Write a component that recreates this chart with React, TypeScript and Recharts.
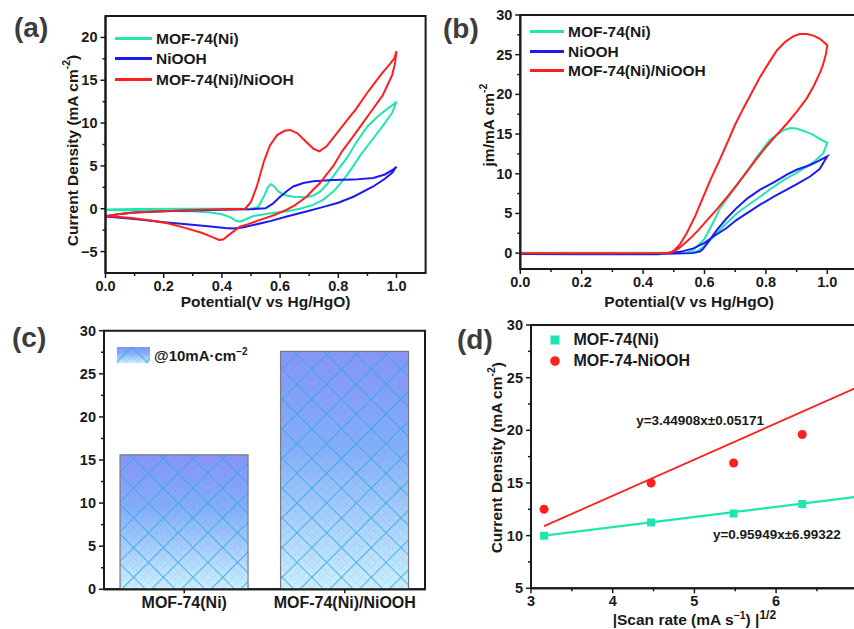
import React from "react";
import {
  Bar,
  BarChart,
  Legend,
  Line,
  LineChart,
  ReferenceArea,
  ReferenceDot,
  Scatter,
  ScatterChart,
  XAxis,
  YAxis,
  ZAxis,
} from "recharts";

const FONT = "'Liberation Sans', Arial, Helvetica, sans-serif";
const INK = "#1a1a1a";
const GREEN = "#1fe6b0";
const BLUE = "#1c1cf0";
const RED = "#ff1f1f";

// (a) CV loops: [potential V vs Hg/HgO, current density mA cm-2]
const cvMof: [number, number][] = [
  [0, -0.1], [0.1, -0.02], [0.3, 0], [0.5, 0], [0.525, 0.2], [0.545, 1.5], [0.558, 2.5],
  [0.568, 2.85], [0.58, 2.6], [0.595, 2.0], [0.615, 1.6], [0.645, 1.4], [0.69, 1.35],
  [0.715, 1.55], [0.737, 2.0], [0.76, 2.8], [0.783, 3.8], [0.806, 4.9], [0.829, 5.9],
  [0.863, 7.8], [0.9, 9.6], [0.94, 10.9], [0.97, 11.7], [0.99, 12.2], [1.0, 12.5],
  [0.985, 11.2], [0.96, 10.0], [0.92, 8.2], [0.875, 6.2], [0.852, 5.0], [0.829, 3.9],
  [0.806, 2.9], [0.783, 2.0], [0.75, 1.1], [0.714, 0.45], [0.668, 0.0], [0.623, -0.3],
  [0.56, -0.55], [0.508, -0.85], [0.48, -1.25], [0.462, -1.5], [0.448, -1.4], [0.43, -1.0],
  [0.4, -0.65], [0.36, -0.45], [0.3, -0.3], [0.2, -0.25], [0.1, -0.2], [0, -0.15],
];
const cvNiooh: [number, number][] = [
  [0, -0.9], [0.05, -0.6], [0.1, -0.45], [0.2, -0.3], [0.3, -0.2], [0.4, -0.12], [0.5, -0.05],
  [0.55, 0.05], [0.575, 0.6], [0.6, 1.4], [0.625, 2.1], [0.645, 2.6], [0.68, 3.0], [0.714, 3.2],
  [0.78, 3.35], [0.852, 3.4], [0.92, 3.6], [0.96, 4.0], [0.985, 4.5], [1.0, 4.9],
  [0.985, 4.2], [0.96, 3.5], [0.92, 2.6], [0.852, 1.4], [0.8, 0.7], [0.737, 0.1], [0.68, -0.4],
  [0.623, -0.9], [0.56, -1.5], [0.508, -1.9], [0.47, -2.2], [0.44, -2.3], [0.41, -2.25],
  [0.37, -2.1], [0.325, -1.95], [0.26, -1.75], [0.21, -1.6], [0.1, -1.2], [0, -0.9],
];
const cvHybrid: [number, number][] = [
  [0, -0.85], [0.05, -0.6], [0.1, -0.45], [0.2, -0.28], [0.3, -0.15], [0.4, -0.05], [0.48, 0],
  [0.5, 0.8], [0.52, 2.6], [0.545, 5.6], [0.565, 7.4], [0.59, 8.6], [0.615, 9.1], [0.634, 9.2],
  [0.66, 8.8], [0.69, 7.8], [0.715, 7.0], [0.735, 6.7], [0.76, 7.3], [0.79, 8.6], [0.825, 10.1],
  [0.86, 11.6], [0.905, 13.8], [0.95, 15.8], [0.98, 17.0], [0.993, 17.6], [1.0, 18.4],
  [0.995, 17.0], [0.985, 15.6], [0.952, 13.2], [0.92, 11.7], [0.884, 10.0], [0.85, 8.4],
  [0.813, 6.7], [0.783, 5.0], [0.76, 4.0], [0.737, 3.0], [0.71, 2.1], [0.691, 1.4], [0.65, 0.4],
  [0.623, -0.1], [0.583, -0.7], [0.531, -1.3], [0.49, -1.8], [0.462, -2.1], [0.43, -2.9],
  [0.404, -3.6], [0.39, -3.65], [0.37, -3.35], [0.33, -2.8], [0.27, -2.2], [0.213, -1.7],
  [0.15, -1.35], [0.098, -1.1], [0.05, -0.95], [0, -0.85],
];

// (b) loops: [potential, jm mA cm-2]
const lsvMof: [number, number][] = [
  [0, 0.05], [0.3, 0.05], [0.542, 0.05], [0.564, 0.4], [0.6, 1.8], [0.625, 3.6], [0.65, 5.6],
  [0.68, 7.2], [0.705, 8.5], [0.74, 10.4], [0.77, 12.1], [0.813, 14.3], [0.857, 15.5],
  [0.88, 15.75], [0.9, 15.7], [0.93, 15.3], [0.954, 14.9], [0.98, 14.3], [1.0, 13.9],
  [0.987, 12.6], [0.96, 11.6], [0.933, 10.9], [0.9, 10.1], [0.857, 9.2], [0.82, 8.2],
  [0.781, 7.1], [0.74, 6.0], [0.705, 5.0], [0.67, 3.7], [0.64, 2.5], [0.615, 1.5],
  [0.596, 0.8], [0.575, 0.2], [0.564, 0.05], [0.3, 0.05], [0, 0.05],
];
const lsvNiooh: [number, number][] = [
  [0, -0.1], [0.2, -0.15], [0.45, -0.15], [0.488, 0], [0.53, 0.25], [0.564, 0.6], [0.6, 1.3],
  [0.629, 2.1], [0.67, 3.1], [0.705, 4.2], [0.745, 5.2], [0.781, 6.1], [0.83, 7.2], [0.868, 8.0],
  [0.905, 8.8], [0.944, 9.65], [0.975, 10.6], [1.0, 12.2],
  [0.97, 11.6], [0.944, 11.1], [0.9, 10.5], [0.868, 9.9], [0.83, 9.0], [0.781, 8.0], [0.74, 6.9],
  [0.705, 5.7], [0.67, 4.3], [0.64, 2.9], [0.61, 1.3], [0.595, 0.5], [0.585, 0.2], [0.56, 0],
  [0.45, -0.1], [0.2, -0.1], [0, -0.1],
];
const lsvHybrid: [number, number][] = [
  [0, 0], [0.2, 0], [0.45, 0], [0.488, 0.05], [0.5, 0.3], [0.52, 1.1], [0.542, 2.5], [0.57, 4.7],
  [0.596, 7.1], [0.62, 9.3], [0.65, 11.8], [0.672, 13.7], [0.7, 16.2], [0.726, 18.2],
  [0.755, 20.3], [0.781, 22.2], [0.81, 24.0], [0.835, 25.5], [0.862, 26.6], [0.889, 27.3],
  [0.91, 27.6], [0.933, 27.6], [0.955, 27.4], [0.976, 27.0], [1.0, 26.2],
  [0.995, 25.0], [0.985, 23.6], [0.976, 22.7], [0.955, 21.0], [0.933, 19.5], [0.9, 17.8],
  [0.868, 16.3], [0.835, 14.9], [0.803, 13.5], [0.77, 11.9], [0.737, 10.2], [0.705, 8.6],
  [0.672, 7.0], [0.64, 5.5], [0.607, 4.1], [0.58, 2.9], [0.552, 1.8], [0.52, 0.7], [0.5, 0.2],
  [0.48, 0.02], [0.3, 0], [0, 0],
];

const loopNames = ["MOF-74(Ni)", "NiOOH", "MOF-74(Ni)/NiOOH"];

// (c) potential gap @10 mA cm-2
const barLabels = ["MOF-74(Ni)", "MOF-74(Ni)/NiOOH"];
const barValues = [15.6, 27.6];

// (d) current density vs sqrt(scan rate)
const scanRoot = [3.16, 4.47, 5.48, 6.32];
const jMof = [10.0, 11.25, 12.1, 13.0];
const jHybrid = [12.5, 15.0, 16.9, 19.6];
const fitX = [3.16, 7];
const fitMof = [10.0, 13.7];
const fitHybrid = [10.9, 24.1];
const scanNames = ["MOF-74(Ni)", "MOF-74-NiOOH"];

// tick values
const potentialTicks = [0, 0.1, 0.2, 0.3, 0.4, 0.5, 0.6, 0.7, 0.8, 0.9, 1.0];
const potentialMajors = [0, 0.2, 0.4, 0.6, 0.8, 1.0];
const cvTicks = [-5, -2.5, 0, 2.5, 5, 7.5, 10, 12.5, 15, 17.5, 20];
const cvMajors = [-5, 0, 5, 10, 15, 20];
const lsvTicks = [0, 2.5, 5, 7.5, 10, 12.5, 15, 17.5, 20, 22.5, 25, 27.5, 30];
const lsvMajors = [0, 5, 10, 15, 20, 25, 30];
const barTicks = lsvTicks;
const barMajors = lsvMajors;
const scanTicks = [3, 3.5, 4, 4.5, 5, 5.5, 6, 6.5];
const scanMajors = [3, 4, 5, 6];
const densTicks = [5, 7.5, 10, 12.5, 15, 17.5, 20, 22.5, 25, 27.5, 30];
const densMajors = [5, 10, 15, 20, 25, 30];

const toLoop = (pairs: [number, number][]) => pairs.map(([v, j]) => ({ v, j }));
const toXY = (xs: number[], ys: number[]) => xs.map((x, i) => ({ x, y: ys[i] }));
const barRows = barLabels.map((name, i) => ({ name, value: barValues[i] }));

const tickText = { fontFamily: FONT, fontWeight: 700, fontSize: 14.5, fill: INK };
const titleText = { fontFamily: FONT, fontWeight: 700, fontSize: 15.5, fill: INK };
const axisLine = { stroke: INK, strokeWidth: 2 };

const minusFmt = (n: number) => (n < 0 ? `\u2212${Math.abs(n)}` : String(n));

const inOrder = (payload: any[], names: string[]) =>
  payload
    .filter((item) => item.type !== "none" && names.includes(item.value))
    .sort((a, b) => names.indexOf(a.value) - names.indexOf(b.value));

function AxisTick({ x = 0, y = 0, payload, side, majors, fmt = String }: any) {
  const value = payload?.value ?? 0;
  const major = majors.some((m: number) => Math.abs(m - value) < 1e-6);
  const len = major ? 5 : 3;
  if (side === "bottom") {
    return (
      <g>
        <line x1={x} y1={y} x2={x} y2={y + len} stroke={INK} strokeWidth={1.5} />
        {major && (
          <text x={x} y={y + 18} textAnchor="middle" style={tickText}>
            {fmt(value)}
          </text>
        )}
      </g>
    );
  }
  return (
    <g>
      <line x1={x} y1={y} x2={x - len} y2={y} stroke={INK} strokeWidth={1.5} />
      {major && (
        <text x={x - 8} y={y + 5} textAnchor="end" style={tickText}>
          {fmt(value)}
        </text>
      )}
    </g>
  );
}

function CategoryTick({ x = 0, y = 0, payload }: any) {
  return (
    <g>
      <line x1={x} y1={y} x2={x} y2={y + 4} stroke={INK} strokeWidth={1.5} />
      <text x={x} y={y + 19} textAnchor="middle" style={{ ...tickText, fontSize: 16 }}>
        {payload?.value}
      </text>
    </g>
  );
}

function XTitle({ viewBox, drop, title }: any) {
  const vb = viewBox ?? { x: 0, y: 0, width: 0, height: 0 };
  return (
    <text x={vb.x + vb.width / 2} y={vb.y + drop} textAnchor="middle" style={titleText}>
      {title}
    </text>
  );
}

function YTitle({ viewBox, cx, shift = 0, title }: any) {
  const vb = viewBox ?? { x: 0, y: 0, width: 0, height: 0 };
  const x = vb.x + cx;
  const y = vb.y + vb.height / 2 + shift;
  return (
    <text
      x={x}
      y={y}
      transform={`rotate(-90 ${x} ${y})`}
      textAnchor="middle"
      dominantBaseline="central"
      style={titleText}
    >
      {title}
    </text>
  );
}

const sup = (s: string, tail?: string) => {
  const parts = [
    <tspan key="s" dy={-6} fontSize={10.5}>
      {s}
    </tspan>,
  ];
  if (tail) {
    parts.push(
      <tspan key="t" dy={6}>
        {tail}
      </tspan>,
    );
  }
  return parts;
};

function LineLegend({ payload = [], swatch, rowHeight }: any) {
  return (
    <div style={{ fontFamily: FONT, fontWeight: 700, fontSize: 15.5, color: INK, lineHeight: 1 }}>
      {inOrder(payload, loopNames).map((item: any) => (
        <div key={item.value} style={{ display: "flex", alignItems: "center", height: rowHeight }}>
          <span style={{ width: swatch, height: 3, background: item.color, marginRight: 4 }} />
          <span>{item.value}</span>
        </div>
      ))}
    </div>
  );
}

function MarkerLegend({ payload = [] }: any) {
  return (
    <div style={{ fontFamily: FONT, fontWeight: 700, fontSize: 16, color: INK, lineHeight: 1 }}>
      {inOrder(payload, scanNames).map((item: any) => (
        <div key={item.value} style={{ display: "flex", alignItems: "center", height: 20.7 }}>
          <svg width={12} height={12} style={{ marginRight: 12.5 }}>
            {item.type === "square" ? (
              <rect x={1.5} y={1.5} width={9} height={9} fill={item.color} />
            ) : (
              <circle cx={6} cy={6} r={4.8} fill={item.color} />
            )}
          </svg>
          <span>{item.value}</span>
        </div>
      ))}
    </div>
  );
}

function BarLegend({ payload = [] }: any) {
  return (
    <div style={{ fontFamily: FONT, fontWeight: 700, fontSize: 15, color: INK, lineHeight: 1 }}>
      {payload.map((item: any) => (
        <div key={item.value} style={{ display: "flex", alignItems: "center" }}>
          <svg width={33} height={16} style={{ marginRight: 4 }}>
            <rect x={0} y={0} width={33} height={16} fill="url(#barFade)" />
            <rect x={0} y={0} width={33} height={16} fill="url(#barHatch)" />
          </svg>
          <span>
            @10mA·cm<sup style={{ fontSize: 10 }}>−2</sup>
          </span>
        </div>
      ))}
    </div>
  );
}

function HatchedBar({ x = 0, y = 0, width = 0, height = 0 }: any) {
  return (
    <g>
      <rect x={x} y={y} width={width} height={height} fill="url(#barFade)" />
      <rect x={x} y={y} width={width} height={height} fill="url(#barHatch)" />
      <rect x={x} y={y} width={width} height={height} fill="none" stroke="#7a7a7a" strokeWidth={1.2} />
    </g>
  );
}

const letterStyle: React.CSSProperties = {
  position: "absolute",
  fontFamily: FONT,
  fontWeight: 700,
  fontSize: 28,
  lineHeight: 1,
  color: "#3c3c3c",
};

function CvPanel() {
  return (
    <LineChart width={440} height={310} margin={{ top: 16, right: 14.4, bottom: 0, left: 0 }}>
      <XAxis
        type="number"
        dataKey="v"
        domain={[0, 1.1]}
        allowDataOverflow
        ticks={potentialTicks}
        interval={0}
        height={37}
        tickSize={0}
        tickMargin={0}
        tickLine={false}
        axisLine={axisLine}
        tick={<AxisTick side="bottom" majors={potentialMajors} fmt={(n: number) => n.toFixed(1)} />}
        label={<XTitle drop={34} title="Potential(V vs Hg/HgO)" />}
      />
      <YAxis
        type="number"
        domain={[-7.5, 22.5]}
        allowDataOverflow
        ticks={cvTicks}
        interval={0}
        width={105.5}
        tickSize={0}
        tickMargin={0}
        tickLine={false}
        axisLine={axisLine}
        tick={<AxisTick side="left" majors={cvMajors} fmt={minusFmt} />}
        label={<YTitle cx={72} shift={6} title={["Current Density (mA cm", ...sup("-2", ")")]} />}
      />
      <ReferenceArea y1={-7.5} y2={22.5} fill="none" stroke={INK} strokeWidth={2} />
      <Legend
        layout="vertical"
        align="center"
        verticalAlign="middle"
        wrapperStyle={{ left: 115, top: 28, width: "auto" }}
        content={<LineLegend swatch={37} rowHeight={20.5} />}
      />
      <Line data={toLoop(cvMof)} dataKey="j" name={loopNames[0]} stroke={GREEN} strokeWidth={2} dot={false} isAnimationActive={false} />
      <Line data={toLoop(cvNiooh)} dataKey="j" name={loopNames[1]} stroke={BLUE} strokeWidth={2} dot={false} isAnimationActive={false} />
      <Line data={toLoop(cvHybrid)} dataKey="j" name={loopNames[2]} stroke={RED} strokeWidth={2} dot={false} isAnimationActive={false} />
    </LineChart>
  );
}

function LsvPanel() {
  return (
    <LineChart width={440} height={310} margin={{ top: 15, right: 9, bottom: 0, left: 0 }}>
      <XAxis
        type="number"
        dataKey="v"
        domain={[0, 1.1]}
        allowDataOverflow
        ticks={potentialTicks}
        interval={0}
        height={41}
        tickSize={0}
        tickMargin={0}
        tickLine={false}
        axisLine={axisLine}
        tick={<AxisTick side="bottom" majors={potentialMajors} fmt={(n: number) => n.toFixed(1)} />}
        label={<XTitle drop={38} title="Potential(V vs Hg/HgO)" />}
      />
      <YAxis
        type="number"
        domain={[-2, 30]}
        allowDataOverflow
        ticks={lsvTicks}
        interval={0}
        width={93.3}
        tickSize={0}
        tickMargin={0}
        tickLine={false}
        axisLine={axisLine}
        tick={<AxisTick side="left" majors={lsvMajors} />}
        label={<YTitle cx={61.7} shift={-17} title={["jm/mA cm", ...sup("-2")]} />}
      />
      <ReferenceArea y1={-2} y2={30} fill="none" stroke={INK} strokeWidth={2} />
      <Legend
        layout="vertical"
        align="center"
        verticalAlign="middle"
        wrapperStyle={{ left: 103, top: 22, width: "auto" }}
        content={<LineLegend swatch={34} rowHeight={19.5} />}
      />
      <Line data={toLoop(lsvMof)} dataKey="j" name={loopNames[0]} stroke={GREEN} strokeWidth={2} dot={false} isAnimationActive={false} />
      <Line data={toLoop(lsvNiooh)} dataKey="j" name={loopNames[1]} stroke={BLUE} strokeWidth={2} dot={false} isAnimationActive={false} />
      <Line data={toLoop(lsvHybrid)} dataKey="j" name={loopNames[2]} stroke={RED} strokeWidth={2} dot={false} isAnimationActive={false} />
    </LineChart>
  );
}

function BarPanel() {
  return (
    <BarChart
      width={440}
      height={319}
      data={barRows}
      margin={{ top: 20.7, right: 15, bottom: 0, left: 0 }}
      barCategoryGap="10%"
    >
      <defs>
        <linearGradient id="barFade" x1="0" y1="0" x2="0" y2="1">
          <stop offset="0%" stopColor="#8894f6" />
          <stop offset="40%" stopColor="#84aef7" />
          <stop offset="100%" stopColor="#cdeffc" />
        </linearGradient>
        <pattern id="barHatch" width={21} height={21} patternUnits="userSpaceOnUse" patternTransform="rotate(45)">
          <path d="M0 10.5H21M10.5 0V21" stroke="#2ea6ee" strokeWidth={1.1} fill="none" strokeOpacity={0.8} />
          <path
            d="M0 3.5H21M0 17.5H21M3.5 0V21M17.5 0V21"
            stroke="#2ea6ee"
            strokeWidth={0.8}
            strokeOpacity={0.35}
            strokeDasharray="1 1.5"
            fill="none"
          />
        </pattern>
      </defs>
      <XAxis
        dataKey="name"
        interval={0}
        height={39.7}
        tickSize={0}
        tickMargin={0}
        tickLine={false}
        axisLine={axisLine}
        tick={<CategoryTick />}
      />
      <YAxis
        type="number"
        domain={[0, 30]}
        allowDataOverflow
        ticks={barTicks}
        interval={0}
        width={104}
        tickSize={0}
        tickMargin={0}
        tickLine={false}
        axisLine={axisLine}
        tick={<AxisTick side="left" majors={barMajors} />}
      />
      <ReferenceArea y1={0} y2={30} fill="none" stroke={INK} strokeWidth={2} />
      <Legend
        layout="vertical"
        align="center"
        verticalAlign="middle"
        wrapperStyle={{ left: 117, top: 37, width: "auto" }}
        content={<BarLegend />}
      />
      <Bar
        dataKey="value"
        name="@10mA·cm-2"
        shape={(p: any) => <HatchedBar {...p} />}
        isAnimationActive={false}
      />
    </BarChart>
  );
}

function ScanPanel() {
  return (
    <ScatterChart width={440} height={319} margin={{ top: 15, right: 9.2, bottom: 0, left: 0 }}>
      <XAxis
        type="number"
        dataKey="x"
        domain={[3, 7]}
        allowDataOverflow
        ticks={scanTicks}
        interval={0}
        height={40.7}
        tickSize={0}
        tickMargin={0}
        tickLine={false}
        axisLine={axisLine}
        tick={<AxisTick side="bottom" majors={scanMajors} />}
        label={
          <XTitle
            drop={37}
            title={["|Scan rate (mA s", ...sup("\u22121", ") |"), <tspan key="p" dy={-6} fontSize={12}>1/2</tspan>]}
          />
        }
      />
      <YAxis
        type="number"
        dataKey="y"
        domain={[5, 30]}
        allowDataOverflow
        ticks={densTicks}
        interval={0}
        width={104}
        tickSize={0}
        tickMargin={0}
        tickLine={false}
        axisLine={axisLine}
        tick={<AxisTick side="left" majors={densMajors} />}
        label={<YTitle cx={70} shift={1} title={["Current Density (mA cm", ...sup("-2", ")")]} />}
      />
      <ZAxis range={[85, 85]} />
      <ReferenceArea y1={5} y2={30} fill="none" stroke={INK} strokeWidth={2} />
      <Legend
        layout="vertical"
        align="center"
        verticalAlign="middle"
        wrapperStyle={{ left: 122, top: 19.5, width: "auto" }}
        content={<MarkerLegend />}
      />
      <Scatter
        name="fit-hybrid"
        data={toXY(fitX, fitHybrid)}
        line={{ stroke: RED, strokeWidth: 1.8 }}
        shape={() => <g />}
        legendType="none"
        isAnimationActive={false}
      />
      <Scatter
        name="fit-mof"
        data={toXY(fitX, fitMof)}
        line={{ stroke: GREEN, strokeWidth: 2.2 }}
        shape={() => <g />}
        legendType="none"
        isAnimationActive={false}
      />
      <Scatter
        name={scanNames[0]}
        data={toXY(scanRoot, jMof)}
        fill={GREEN}
        shape="square"
        legendType="square"
        isAnimationActive={false}
      />
      <Scatter
        name={scanNames[1]}
        data={toXY(scanRoot, jHybrid)}
        fill={RED}
        shape="circle"
        legendType="circle"
        isAnimationActive={false}
      />
      <ReferenceDot
        x={5.07}
        y={21}
        r={0}
        fill="none"
        stroke="none"
        label={{ value: "y=3.44908x±0.05171", position: "center", style: { ...tickText, fontSize: 13.5 } }}
      />
      <ReferenceDot
        x={6.01}
        y={10.15}
        r={0}
        fill="none"
        stroke="none"
        label={{ value: "y=0.95949x±6.99322", position: "center", style: { ...tickText, fontSize: 13.5 } }}
      />
    </ScatterChart>
  );
}

export default function App() {
  return (
    <div
      style={{
        position: "absolute",
        left: 0,
        top: 0,
        width: 854,
        height: 629,
        overflow: "hidden",
        background: "#fff",
      }}
    >
      <div style={{ position: "absolute", left: 0, top: 0 }}>
        <CvPanel />
      </div>
      <div style={{ position: "absolute", left: 427, top: 0 }}>
        <LsvPanel />
      </div>
      <div style={{ position: "absolute", left: 0, top: 310 }}>
        <BarPanel />
      </div>
      <div style={{ position: "absolute", left: 427, top: 310 }}>
        <ScanPanel />
      </div>
      <div style={{ ...letterStyle, left: 14, top: 14 }}>(a)</div>
      <div style={{ ...letterStyle, left: 443, top: 15 }}>(b)</div>
      <div style={{ ...letterStyle, left: 12, top: 324 }}>(c)</div>
      <div style={{ ...letterStyle, left: 457, top: 326 }}>(d)</div>
    </div>
  );
}
